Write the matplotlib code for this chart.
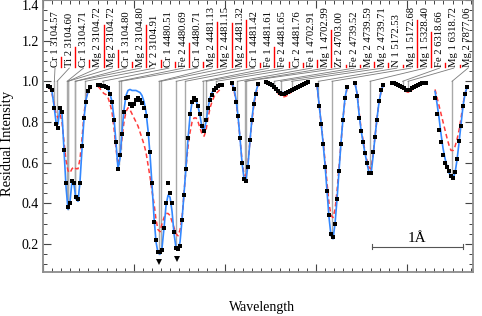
"""
Line identification plot: observed residual intensities with two model fits,
several spectral windows put side by side on one wavelength axis.
"""

import numpy as np
import matplotlib
matplotlib.use('Agg')  # Use non-interactive backend
import matplotlib.pyplot as plt
from matplotlib.ticker import MultipleLocator

plt.rcParams['font.family'] = ['Liberation Serif', 'DejaVu Serif']

# line identifications shown along the top
line_labels = [
    "Cr 1 3104.57", "Ti 2 3104.60", "Cr 1 3104.71", "Mg 2 3104.72",
    "Mg 2 3104.72", "Cr 1 3104.80", "Mg 2 3104.80", "Y 2 3104.91",
    "Cr 1 4480.51", "Fe 2 4480.69", "Cr 1 4480.71", "Mg 2 4481.13",
    "Mg 2 4481.15", "Mg 2 4481.32", "Cr 1 4481.42", "Fe 1 4481.61",
    "Fe 2 4481.65", "Cr 2 4481.76", "Fe 1 4702.91", "Mg 1 4702.99",
    "Zr 2 4703.00", "Fe 2 4739.52", "Mg 2 4739.59", "Mg 2 4739.71",
    "N 1 5172.53", "Mg 1 5172.68", "Mg 1 5328.40", "Fe 2 6318.66",
    "Mg 1 6318.72", "Mg 2 7877.06",
]
# relative strength of each line (height of the red marks)
line_strength = [
    0.049, 0.099, 0.034, 0.207, 0.084, 0.025, 0.207, 0.034, 0.025, 0.118,
    0.025, 0.222, 0.217, 0.232, 0.020, 0.099, 0.025, 0.020, 0.034, 0.182,
    0.010, 0.010, 0.025, 0.020, 0.010, 0.232, 0.172, 0.020, 0.010, 0.148,
]

# spectral windows: first wavelength of each, common sampling step
WL_STEP = 0.022
seg_start_wl = [3104.50, 4480.46, 4702.85, 4739.43, 5172.515, 5328.235, 6318.544, 7876.873]

# window 1: 3104 A
seg1_obs = [0.975, 0.97, 0.955, 0.87, 0.79, 0.77, 0.87, 0.85, 0.66, 0.50, 0.38,
            0.40, 0.51, 0.50, 0.43, 0.42, 0.50, 0.68, 0.82, 0.90, 0.95, 0.97]
seg1_fit = [0.975, 0.97, 0.95, 0.88, 0.80, 0.79, 0.87, 0.84, 0.66, 0.48, 0.37,
            0.41, 0.51, 0.49, 0.42, 0.41, 0.51, 0.67, 0.82, 0.91, 0.95, 0.97]
seg1_alt = [0.97, 0.965, 0.94, 0.89, 0.84, 0.82, 0.84, 0.80, 0.70, 0.61, 0.56,
            0.55, 0.57, 0.58, 0.57, 0.57, 0.62, 0.72, 0.84, 0.92, 0.95, 0.965]

# window 2: 4481 A
seg2_obs = [0.98, 0.98, 0.975, 0.975, 0.97, 0.965, 0.94, 0.90, 0.81, 0.70,
            0.57, 0.64, 0.74, 0.85, 0.92, 0.925, 0.89, 0.88, 0.89, 0.91,
            0.92, 0.91, 0.895, 0.87, 0.83, 0.74, 0.65, 0.50, 0.31, 0.22,
            0.16, 0.16, 0.17, 0.28, 0.40, 0.50, 0.45, 0.40, 0.26, 0.18,
            0.175, 0.19, 0.32, 0.44, 0.57, 0.72, 0.84, 0.90, 0.92, 0.91,
            0.88, 0.84, 0.78, 0.755, 0.81, 0.87, 0.91, 0.935, 0.955, 0.965,
            0.975, 0.98, 0.98]
seg2_fit = [0.985, 0.985, 0.98, 0.975, 0.97, 0.96, 0.94, 0.90, 0.82, 0.70,
            0.57, 0.62, 0.75, 0.86, 0.93, 0.955, 0.96, 0.955, 0.955, 0.955,
            0.95, 0.945, 0.93, 0.90, 0.85, 0.76, 0.64, 0.49, 0.33, 0.21,
            0.155, 0.15, 0.18, 0.28, 0.39, 0.44, 0.43, 0.36, 0.25, 0.18,
            0.17, 0.21, 0.32, 0.45, 0.58, 0.72, 0.83, 0.90, 0.915, 0.905,
            0.875, 0.83, 0.77, 0.76, 0.80, 0.87, 0.92, 0.945, 0.96, 0.97,
            0.975, 0.98, 0.98]
seg2_alt = [0.975, 0.965, 0.95, 0.94, 0.935, 0.92, 0.89, 0.85, 0.77, 0.67,
            0.59, 0.63, 0.72, 0.80, 0.85, 0.87, 0.86, 0.84, 0.82, 0.80,
            0.78, 0.75, 0.72, 0.69, 0.65, 0.59, 0.53, 0.46, 0.40, 0.32,
            0.27, 0.26, 0.30, 0.33, 0.35, 0.35, 0.34, 0.31, 0.28, 0.25,
            0.24, 0.27, 0.33, 0.45, 0.58, 0.68, 0.75, 0.80, 0.82, 0.82,
            0.80, 0.77, 0.74, 0.73, 0.76, 0.82, 0.87, 0.90, 0.925, 0.94,
            0.95, 0.96, 0.965]

# window 3: 4703 A
seg3_obs = [0.99, 0.96, 0.90, 0.83, 0.72, 0.60, 0.52, 0.51, 0.58, 0.71, 0.81, 0.89, 0.94, 0.985]
seg3_fit = [0.99, 0.965, 0.91, 0.83, 0.72, 0.60, 0.52, 0.515, 0.59, 0.71, 0.82, 0.90, 0.95, 0.985]
seg3_alt = [0.985, 0.955, 0.90, 0.82, 0.72, 0.61, 0.54, 0.535, 0.60, 0.71, 0.81, 0.89, 0.94, 0.98]

# window 4: 4739 A
seg4_obs = [0.995, 0.993, 0.988, 0.98, 0.97, 0.96, 0.95, 0.945, 0.94, 0.94, 0.943,
            0.948, 0.952, 0.957, 0.962, 0.967, 0.972, 0.977, 0.982, 0.987, 0.991, 0.995]
seg4_fit = [0.997, 0.995, 0.99, 0.983, 0.974, 0.964, 0.955, 0.949, 0.945, 0.944, 0.946,
            0.95, 0.955, 0.96, 0.965, 0.97, 0.975, 0.98, 0.985, 0.989, 0.993, 0.996]
seg4_alt = [0.995, 0.992, 0.986, 0.977, 0.966, 0.953, 0.941, 0.932, 0.926, 0.924, 0.927,
            0.934, 0.942, 0.95, 0.957, 0.964, 0.97, 0.976, 0.981, 0.986, 0.99, 0.994]

# window 5: 5172 A
seg5_obs = [0.98, 0.88, 0.79, 0.69, 0.58, 0.46, 0.34, 0.25, 0.235, 0.30, 0.42, 0.56, 0.69, 0.81, 0.92, 0.97]
seg5_fit = [0.985, 0.89, 0.80, 0.70, 0.59, 0.46, 0.33, 0.24, 0.225, 0.30, 0.42, 0.56, 0.70, 0.82, 0.92, 0.97]
seg5_alt = [0.98, 0.89, 0.80, 0.71, 0.61, 0.50, 0.40, 0.34, 0.33, 0.37, 0.46, 0.58, 0.70, 0.82, 0.91, 0.965]

# window 6: 5328 A
seg6_obs = [0.99, 0.93, 0.82, 0.755, 0.70, 0.645, 0.60, 0.55, 0.55, 0.65, 0.725, 0.81, 0.905, 0.955, 0.98]
seg6_fit = [0.99, 0.94, 0.84, 0.76, 0.70, 0.645, 0.595, 0.55, 0.545, 0.63, 0.73, 0.82, 0.90, 0.95, 0.98]
seg6_alt = [0.99, 0.94, 0.85, 0.77, 0.71, 0.655, 0.61, 0.575, 0.57, 0.64, 0.73, 0.82, 0.90, 0.95, 0.98]

# window 7: 6318 A
seg7_obs = [0.99, 0.99, 0.986, 0.982, 0.977, 0.972, 0.966, 0.959, 0.955,
            0.958, 0.965, 0.972, 0.978, 0.983, 0.987, 0.99, 0.992, 0.994]
seg7_fit = [0.992, 0.991, 0.988, 0.984, 0.979, 0.974, 0.968, 0.961, 0.957,
            0.96, 0.967, 0.974, 0.98, 0.985, 0.989, 0.992, 0.994, 0.995]
seg7_alt = [0.99, 0.988, 0.984, 0.979, 0.973, 0.966, 0.958, 0.95, 0.946,
            0.95, 0.958, 0.967, 0.975, 0.981, 0.986, 0.99, 0.992, 0.994]

# window 8: 7877 A
seg8_obs = [0.92, 0.84, 0.76, 0.70, 0.64, 0.60, 0.58, 0.56, 0.535, 0.525, 0.555, 0.62, 0.705, 0.78, 0.88, 0.94, 0.97]
seg8_fit = [0.95, 0.89, 0.82, 0.74, 0.67, 0.62, 0.58, 0.55, 0.53, 0.525, 0.55, 0.615, 0.70, 0.79, 0.88, 0.94, 0.97]
seg8_alt = [0.96, 0.92, 0.88, 0.84, 0.80, 0.76, 0.72, 0.685, 0.66, 0.66, 0.68, 0.715, 0.76, 0.82, 0.89, 0.94, 0.97]

# two deviant points in the Mg II 4481 cores
low_wl = [4481.13, 4481.33]
low_flux = [0.11, 0.125]

seg_obs = [seg1_obs, seg2_obs, seg3_obs, seg4_obs, seg5_obs, seg6_obs, seg7_obs, seg8_obs]
seg_fit = [seg1_fit, seg2_fit, seg3_fit, seg4_fit, seg5_fit, seg6_fit, seg7_fit, seg8_fit]
seg_alt = [seg1_alt, seg2_alt, seg3_alt, seg4_alt, seg5_alt, seg6_alt, seg7_alt, seg8_alt]

# layout: where each window starts along the plot axis (in Angstrom)
SEG_X0 = [0.055, 0.604, 2.077, 2.451, 3.011, 3.429, 3.835, 4.308]


def seg_wavelengths(k):
    return seg_start_wl[k] + WL_STEP * np.arange(len(seg_obs[k]))


def find_segment(wl):
    for k in range(len(seg_start_wl)):
        w = seg_wavelengths(k)
        if w[0] - 1e-6 <= wl <= w[-1] + 1e-6:
            return k
    raise ValueError(wl)


def to_plot_x(wl, k):
    return SEG_X0[k] + (np.asarray(wl) - seg_start_wl[k])


fig = plt.figure(figsize=(4.82, 3.16), dpi=100)
ax = fig.add_axes([0.0892, 0.1392, 0.8921, 0.8608])

# spectra
for k in range(len(seg_obs)):
    wl = seg_wavelengths(k)
    x = to_plot_x(wl, k)
    ax.plot(x, seg_alt[k], color='#ff3b3b', lw=1.1, ls=(0, (3, 2)), zorder=3)
    ax.plot(x, seg_fit[k], color='#3388ff', lw=1.2, zorder=4)
    ax.plot(x, seg_obs[k], 's', color='black', ms=2.6, mew=0, zorder=5)

k_low = find_segment(low_wl[0])
ax.plot(to_plot_x(low_wl, k_low), low_flux, 'v', color='black', ms=4.5, mew=0, zorder=5)

# identifications: labels, strength marks, connectors and core markers
label_x = np.linspace(0.132, 4.670, len(line_labels))
base = 1.069
for lx, text, s in zip(label_x, line_labels, line_strength):
    wl = float(text.split()[-1])
    k = find_segment(wl)
    xl = float(to_plot_x(wl, k))
    core = np.interp(wl, seg_wavelengths(k), seg_fit[k])
    ax.text(lx, base + 0.002, text, rotation=90, ha='center', va='bottom',
            fontsize=7.7, zorder=6)
    ax.plot([lx + 0.064, lx + 0.064], [base, base + s], color='red', lw=1.0, zorder=6)
    ax.plot([lx, xl], [base - 0.004, 1.0], color='#7a7a7a', lw=0.6, zorder=2)
    ax.plot([xl, xl], [1.0, core], color='#a9a9a9', lw=1.0, zorder=1)

# 1 Angstrom scale bar
bar_y = 0.187
ax.plot([3.615, 4.615], [bar_y, bar_y], color='#555555', lw=0.8)
ax.plot([3.615, 3.615], [bar_y - 0.012, bar_y + 0.012], color='#555555', lw=0.8)
ax.plot([4.615, 4.615], [bar_y - 0.012, bar_y + 0.012], color='#555555', lw=0.8)
ax.text(4.115, bar_y + 0.006, "1Å", ha='center', va='bottom', fontsize=11)

# axes styling
ax.set_xlim(0, 4.725)
ax.set_ylim(0.062, 1.40)
ax.xaxis.set_major_locator(MultipleLocator(1))
ax.xaxis.set_minor_locator(MultipleLocator(0.1))
ax.set_yticks([0.2, 0.4, 0.6, 0.8, 1.0, 1.2, 1.4])
ax.set_yticklabels(["0.2", "0.4", "0.6", "0.8", "1.0", "1.2", "1.4"])
ax.yaxis.set_minor_locator(MultipleLocator(0.05))
ax.tick_params(which='both', direction='in', top=True, right=True,
               labelbottom=False, color='#444444', labelsize=10, pad=3)
ax.tick_params(which='major', length=6, width=0.8)
ax.tick_params(which='minor', length=3, width=0.7)
ax.get_yticklabels()[-1].set_verticalalignment('top')
for sp in ax.spines.values():
    sp.set_color('#8c8c8c')
    sp.set_linewidth(1.3)

fig.text(262 / 482, 1 - 307 / 316, "Wavelength", ha='center', va='center', fontsize=10)
fig.text(8 / 482, 1 - 143 / 316, "Residual Intensity", ha='center', va='center',
         rotation=90, fontsize=10.5)

fig.savefig("out.png", dpi=100)
plt.close(fig)
